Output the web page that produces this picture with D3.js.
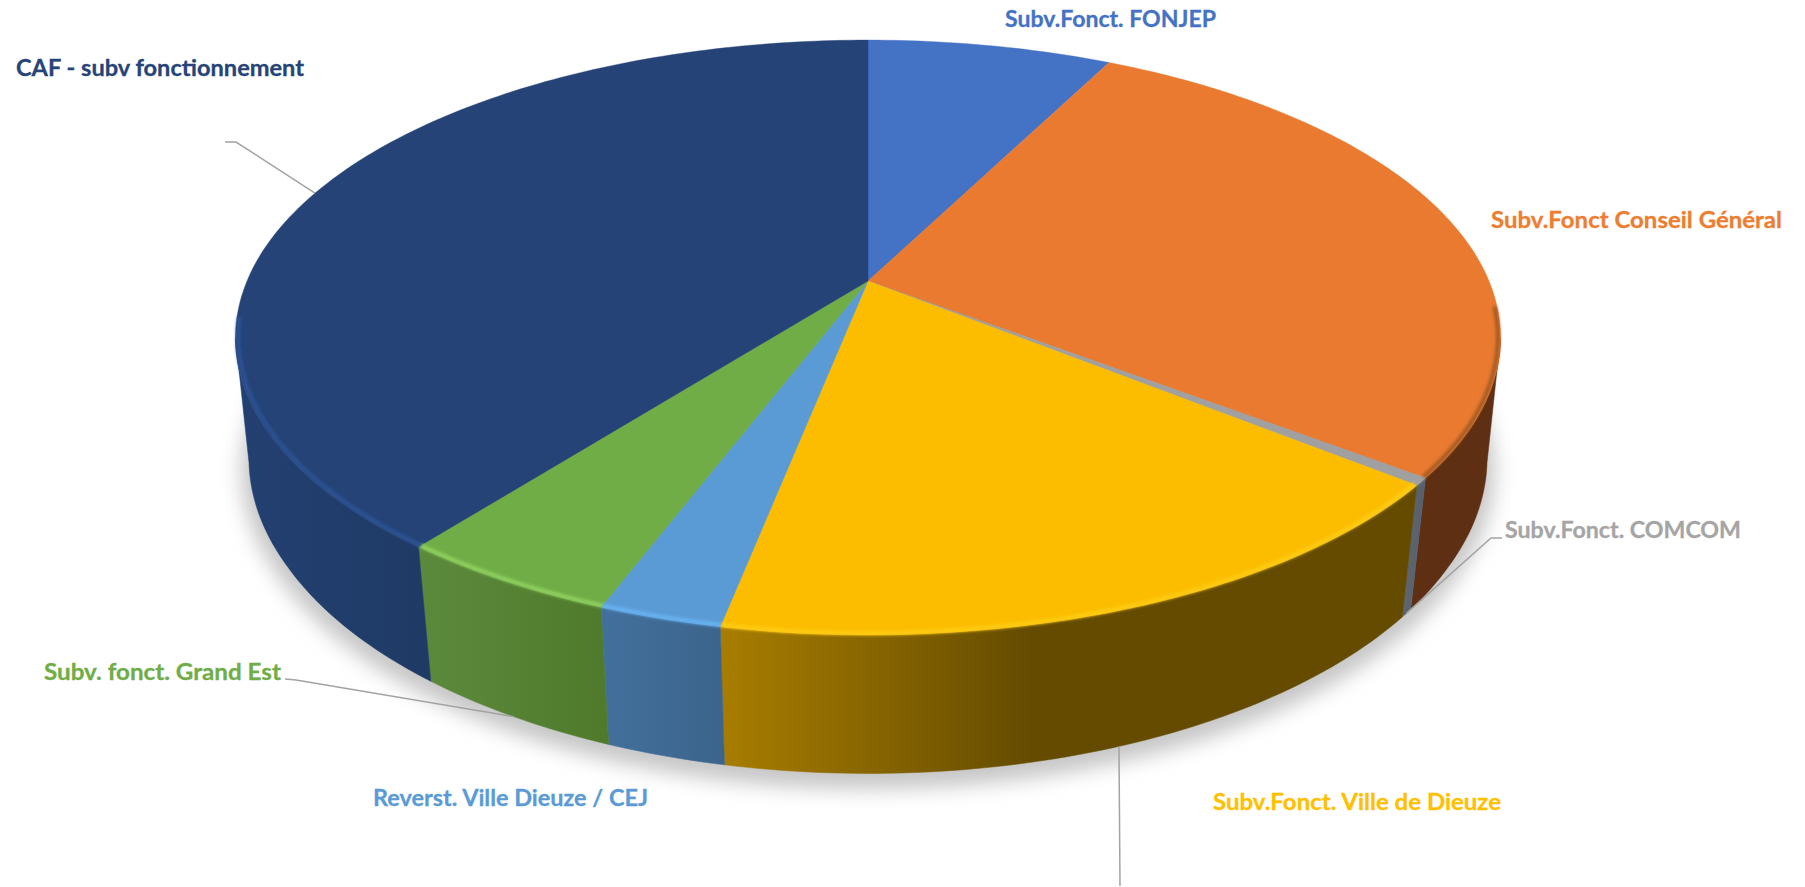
<!DOCTYPE html>
<html>
<head>
<meta charset="utf-8">
<script src="https://cdn.jsdelivr.net/npm/d3@7/dist/d3.min.js"></script>
<style>
  html, body { margin: 0; background: #fff; }
  svg { display: block; }
  text { font-family: Lato, "Open Sans", sans-serif; font-weight: 700; }
</style>
</head>
<body>
<svg></svg>
<script>
// slices in clockwise order from 12 o'clock, percent share
const categories = ["Subv.Fonct. FONJEP", "Subv.Fonct Conseil Général", "Subv.Fonct. COMCOM",
  "Subv.Fonct. Ville de Dieuze", "Reverst. Ville Dieuze / CEJ", "Subv. fonct. Grand Est", "CAF - subv fonctionnement"];
const shares = [7.5, 27.9, 0.4, 17.3, 2.65, 4.8, 39.45];

const topColors = ["#4472c4", "#e97a2f", "#a0a0a0", "#fcbd00", "#5b9bd5", "#70ad47", "#254377"];
const labelColors = ["#4472c4", "#ed7d31", "#a5a5a5", "#ffc000", "#5b9bd5", "#70ad47", "#264478"];
const wallLeft = ["#294476", "#5e2f12", "#5e6670", "#a87d00", "#42709c", "#5c8a3c", "#234072"];
const wallRight = ["#294476", "#5e2f12", "#56606c", "#644b00", "#3c648c", "#4f7a2c", "#1f3a64"];
const rimColors = ["#4472c4", "#a35a24", "#a0a0a0", "#ffcc12", "#66b2f2", "#90d25e", "#2b5394"];

// label placement: x, baseline y, fitted width, then the elbow of the leader line (null = no leader)
const labelX = [1005, 1491, 1505, 1213, 373, 44, 16];
const labelY = [27, 228, 538, 810, 806, 680, 76];
const labelW = [211, 291, 236, 288, 275, 237, 288];
const leaderElbow = [null, null, [[1502, 538], [1491, 538]], [[1120, 886]], null, [[285, 679], [296, 680]], [[225, 142], [236, 142]]];
const leaderDepth = [0, 0, 1, 1, 0, 1, 0];

const width = 1805, height = 887;

const svg = d3.select("svg").attr("width", width).attr("height", height);
const defs = svg.append("defs");
defs.append("filter").attr("id", "shadow")
    .attr("x", "-10%").attr("y", "-10%").attr("width", "120%").attr("height", "120%")
  .append("feGaussianBlur").attr("stdDeviation", 10);
defs.append("filter").attr("id", "soft")
    .attr("filterUnits", "userSpaceOnUse").attr("x", 0).attr("y", 0).attr("width", width).attr("height", height)
  .append("feGaussianBlur").attr("stdDeviation", 1.8);

// perspective projection of the disc, depth 0 = top face, 1 = bottom of the wall
const cx = 868, cy = 281;
const radiusX = 621, radiusY = 286.7, tilt = 0.19, sink = 0.024, wallHeight = 124;
const sinkFactor = d3.scaleLinear().domain([0.19, 0.5]).range([0.875, 1]).clamp(true);
function project(angle, depth, k = 1) {
  const u = k * Math.sin(angle), v = -k * Math.cos(angle);
  const w = 1 - tilt * v + sink * sinkFactor(v) * depth;
  return [cx + radiusX * u / w, cy + (radiusY * v + wallHeight * depth) / w];
}

const line = d3.line();
const arcs = d3.pie().sort(null).value(d => d)(shares);
const deg = Math.PI / 180;

function rim(a0, a1, depth, k) {
  const n = Math.max(2, Math.ceil((a1 - a0) / deg));
  return d3.range(n + 1).map(i => project(a0 + (a1 - a0) * i / n, depth, k));
}

// ground shadow, from the outline of the bottom
svg.append("path")
    .attr("d", line(rim(0, 2 * Math.PI, 1, 1.012)) + "Z")
    .attr("transform", "translate(0,10)")
    .attr("fill", "#c6c6c6")
    .attr("filter", "url(#shadow)");

// walls, only the part that faces the viewer
const wallMin = 101 * deg, wallMax = 259 * deg;
arcs.forEach((d, i) => {
  const a0 = Math.max(d.startAngle, wallMin), a1 = Math.min(d.endAngle, wallMax);
  if (a1 <= a0) return;
  const pts = rim(a0, a1, 0).concat(rim(a0, a1, 1).reverse());
  const xs = d3.extent(pts, p => p[0]);
  const grad = defs.append("linearGradient").attr("id", "wall" + i)
      .attr("gradientUnits", "userSpaceOnUse")
      .attr("x1", xs[0]).attr("x2", xs[1]).attr("y1", 0).attr("y2", 0);
  grad.append("stop").attr("offset", 0).attr("stop-color", wallLeft[i]);
  if (i == 3) grad.append("stop").attr("offset", 0.45).attr("stop-color", wallRight[i]);
  grad.append("stop").attr("offset", 1).attr("stop-color", wallRight[i]);
  svg.append("path")
      .attr("d", line(pts) + "Z")
      .attr("fill", `url(#wall${i})`)
      .attr("stroke", `url(#wall${i})`)
      .attr("stroke-width", 0.5);
});

// top face
svg.append("g").selectAll("path")
  .data(arcs)
  .join("path")
    .attr("d", d => line([project(0, 0, 0)].concat(rim(d.startAngle, d.endAngle, 0))) + "Z")
    .attr("fill", (d, i) => topColors[i])
    .attr("stroke", (d, i) => topColors[i])
    .attr("stroke-width", 0.4);

// soft bevel along the front edge
const bevelMin = 95 * deg, bevelMax = 263 * deg;
arcs.forEach((d, i) => {
  const a0 = Math.max(d.startAngle, bevelMin), a1 = Math.min(d.endAngle, bevelMax);
  if (a1 <= a0) return;
  svg.append("path")
      .attr("d", line(rim(a0, a1, 0, 0.996)))
      .attr("fill", "none")
      .attr("stroke", rimColors[i])
      .attr("stroke-width", 4)
      .attr("filter", "url(#soft)");
});

// leader lines start on the rim at the middle of their slice
arcs.forEach((d, i) => {
  if (!leaderElbow[i]) return;
  const mid = (d.startAngle + d.endAngle) / 2;
  svg.append("path")
      .attr("d", line(leaderElbow[i].concat([project(mid, leaderDepth[i])])))
      .attr("fill", "none")
      .attr("stroke", "#a3a3a3")
      .attr("stroke-width", 1.5);
});

// labels
svg.append("g").selectAll("text")
  .data(categories)
  .join("text")
    .attr("x", (d, i) => labelX[i])
    .attr("y", (d, i) => labelY[i])
    .attr("font-size", 23.5)
    .attr("textLength", (d, i) => labelW[i])
    .attr("lengthAdjust", "spacingAndGlyphs")
    .attr("fill", (d, i) => labelColors[i])
    .attr("stroke", (d, i) => labelColors[i])
    .attr("stroke-width", 0.3)
    .text(d => d);
</script>
</body>
</html>
